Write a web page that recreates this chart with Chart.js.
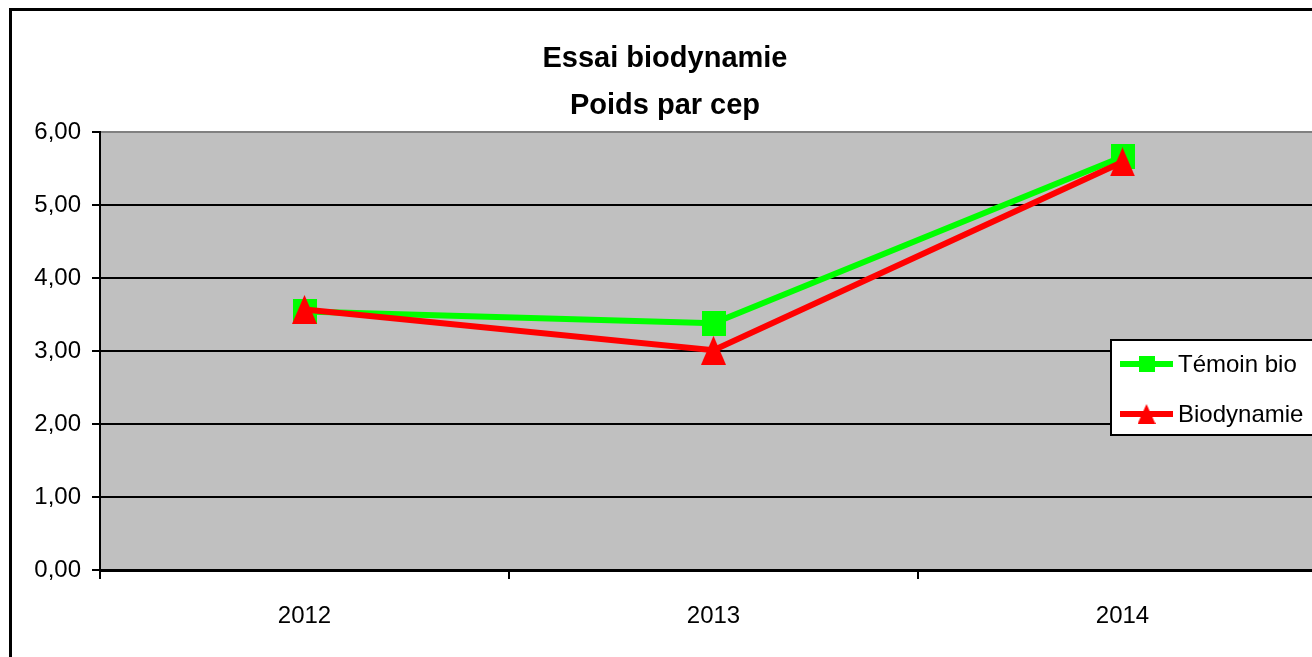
<!DOCTYPE html>
<html><head><meta charset="utf-8">
<script src="https://cdn.jsdelivr.net/npm/chart.js@4/dist/chart.umd.min.js"></script>
<style>html,body{margin:0;padding:0;overflow:hidden;background:#fff;width:1312px;height:657px}canvas{display:block}</style>
</head><body>
<canvas id="c" width="1345" height="680"></canvas>
<script>
const categories = ['2012', '2013', '2014'];
const temoinBio = [3.54, 3.38, 5.66];
const biodynamie = [3.57, 3.01, 5.59];
const yTicks = [0, 1, 2, 3, 4, 5, 6];
const seriesNames = ['Témoin bio', 'Biodynamie'];
const titleLines = ['Essai biodynamie', 'Poids par cep'];

const GREEN = '#00FF00', RED = '#FF0000';
const FONT = "'Liberation Sans', Arial, sans-serif";

function makeSquare(w, h, color) {
  const c = document.createElement('canvas'); c.width = w; c.height = h;
  const x = c.getContext('2d'); x.fillStyle = color; x.fillRect(0, 0, w, h); return c;
}
function makeTriangle(w, h, color) {
  const c = document.createElement('canvas'); c.width = w; c.height = h;
  const x = c.getContext('2d'); x.fillStyle = color;
  x.beginPath(); x.moveTo(w / 2, 0); x.lineTo(w, h); x.lineTo(0, h); x.closePath(); x.fill(); return c;
}
const sqBig = makeSquare(24, 25, GREEN), triBig = makeTriangle(25, 29, RED);
const sqSmall = makeSquare(16, 16, GREEN), triSmall = makeTriangle(18, 20, RED);

const bgPlugin = {
  id: 'bg',
  beforeDraw(chart) {
    const ctx = chart.ctx, a = chart.chartArea;
    ctx.save();
    ctx.fillStyle = '#fff'; ctx.fillRect(0, 0, chart.width, chart.height);
    ctx.fillStyle = '#C0C0C0'; ctx.fillRect(a.left, a.top, a.right - a.left, a.bottom - a.top);
    ctx.strokeStyle = '#000'; ctx.lineWidth = 3;
    ctx.strokeRect(10.5, 9.5, 1323, 660);
    ctx.restore();
  }
};

const legendPlugin = {
  id: 'customLegend',
  afterDraw(chart) {
    const ctx = chart.ctx;
    ctx.save();
    ctx.fillStyle = '#fff'; ctx.fillRect(1111, 340, 215, 95);
    ctx.strokeStyle = '#000'; ctx.lineWidth = 2; ctx.strokeRect(1111, 340, 215, 95);
    const imgs = [sqSmall, triSmall];
    chart.data.datasets.forEach((ds, i) => {
      const y = 364 + i * 50;
      ctx.strokeStyle = ds.borderColor; ctx.lineWidth = 6;
      ctx.beginPath(); ctx.moveTo(1120, y); ctx.lineTo(1173, y); ctx.stroke();
      const im = imgs[i];
      ctx.drawImage(im, 1146.5 - im.width / 2, y - im.height / 2);
      ctx.fillStyle = '#000'; ctx.font = '24px ' + FONT; ctx.textBaseline = 'middle';
      ctx.fillText(ds.label, 1178, y + 1);
    });
    ctx.restore();
  }
};

Chart.defaults.font.family = FONT;
Chart.defaults.color = '#000';

new Chart(document.getElementById('c'), {
  type: 'line',
  data: {
    labels: categories,
    datasets: [
      { label: seriesNames[0], data: temoinBio, borderColor: GREEN, backgroundColor: GREEN,
        borderWidth: 6, pointStyle: sqBig, pointRadius: 12, tension: 0, order: 1 },
      { label: seriesNames[1], data: biodynamie, borderColor: RED, backgroundColor: RED,
        borderWidth: 6, pointStyle: triBig, pointRadius: 12, tension: 0, order: 0 }
    ]
  },
  options: {
    responsive: false,
    animation: false,
    layout: { padding: { left: 0, right: 15, top: 0, bottom: 0 } },
    plugins: {
      legend: { display: false },
      tooltip: { enabled: false },
      title: {
        display: true, text: titleLines, color: '#000',
        font: { size: 29, weight: 'bold', lineHeight: '47px' },
        padding: { top: 35.5, bottom: 2.5 }
      }
    },
    scales: {
      x: {
        offset: true,
        grid: { offset: true, drawOnChartArea: false, color: '#000', tickColor: '#000', lineWidth: 2, tickLength: 9 },
        border: { display: true, color: '#000', width: 3 },
        ticks: { font: { size: 24 }, padding: 23, color: '#000' },
        afterFit(s) { s.height = 110; }
      },
      y: {
        min: 0, max: 6,
        afterBuildTicks(s) { s.ticks = yTicks.map(v => ({ value: v })); },
        grid: {
          color: c => (c.tick && c.tick.value === 6) ? '#808080' : '#000',
          tickColor: '#000', lineWidth: 2, tickLength: 8
        },
        border: { display: true, color: '#000', width: 2 },
        ticks: { font: { size: 24 }, padding: 11, color: '#000',
          callback: v => Number(v).toFixed(2).replace('.', ',') },
        afterFit(s) { s.width = 100; }
      }
    }
  },
  plugins: [bgPlugin, legendPlugin]
});
</script>
</body></html>
